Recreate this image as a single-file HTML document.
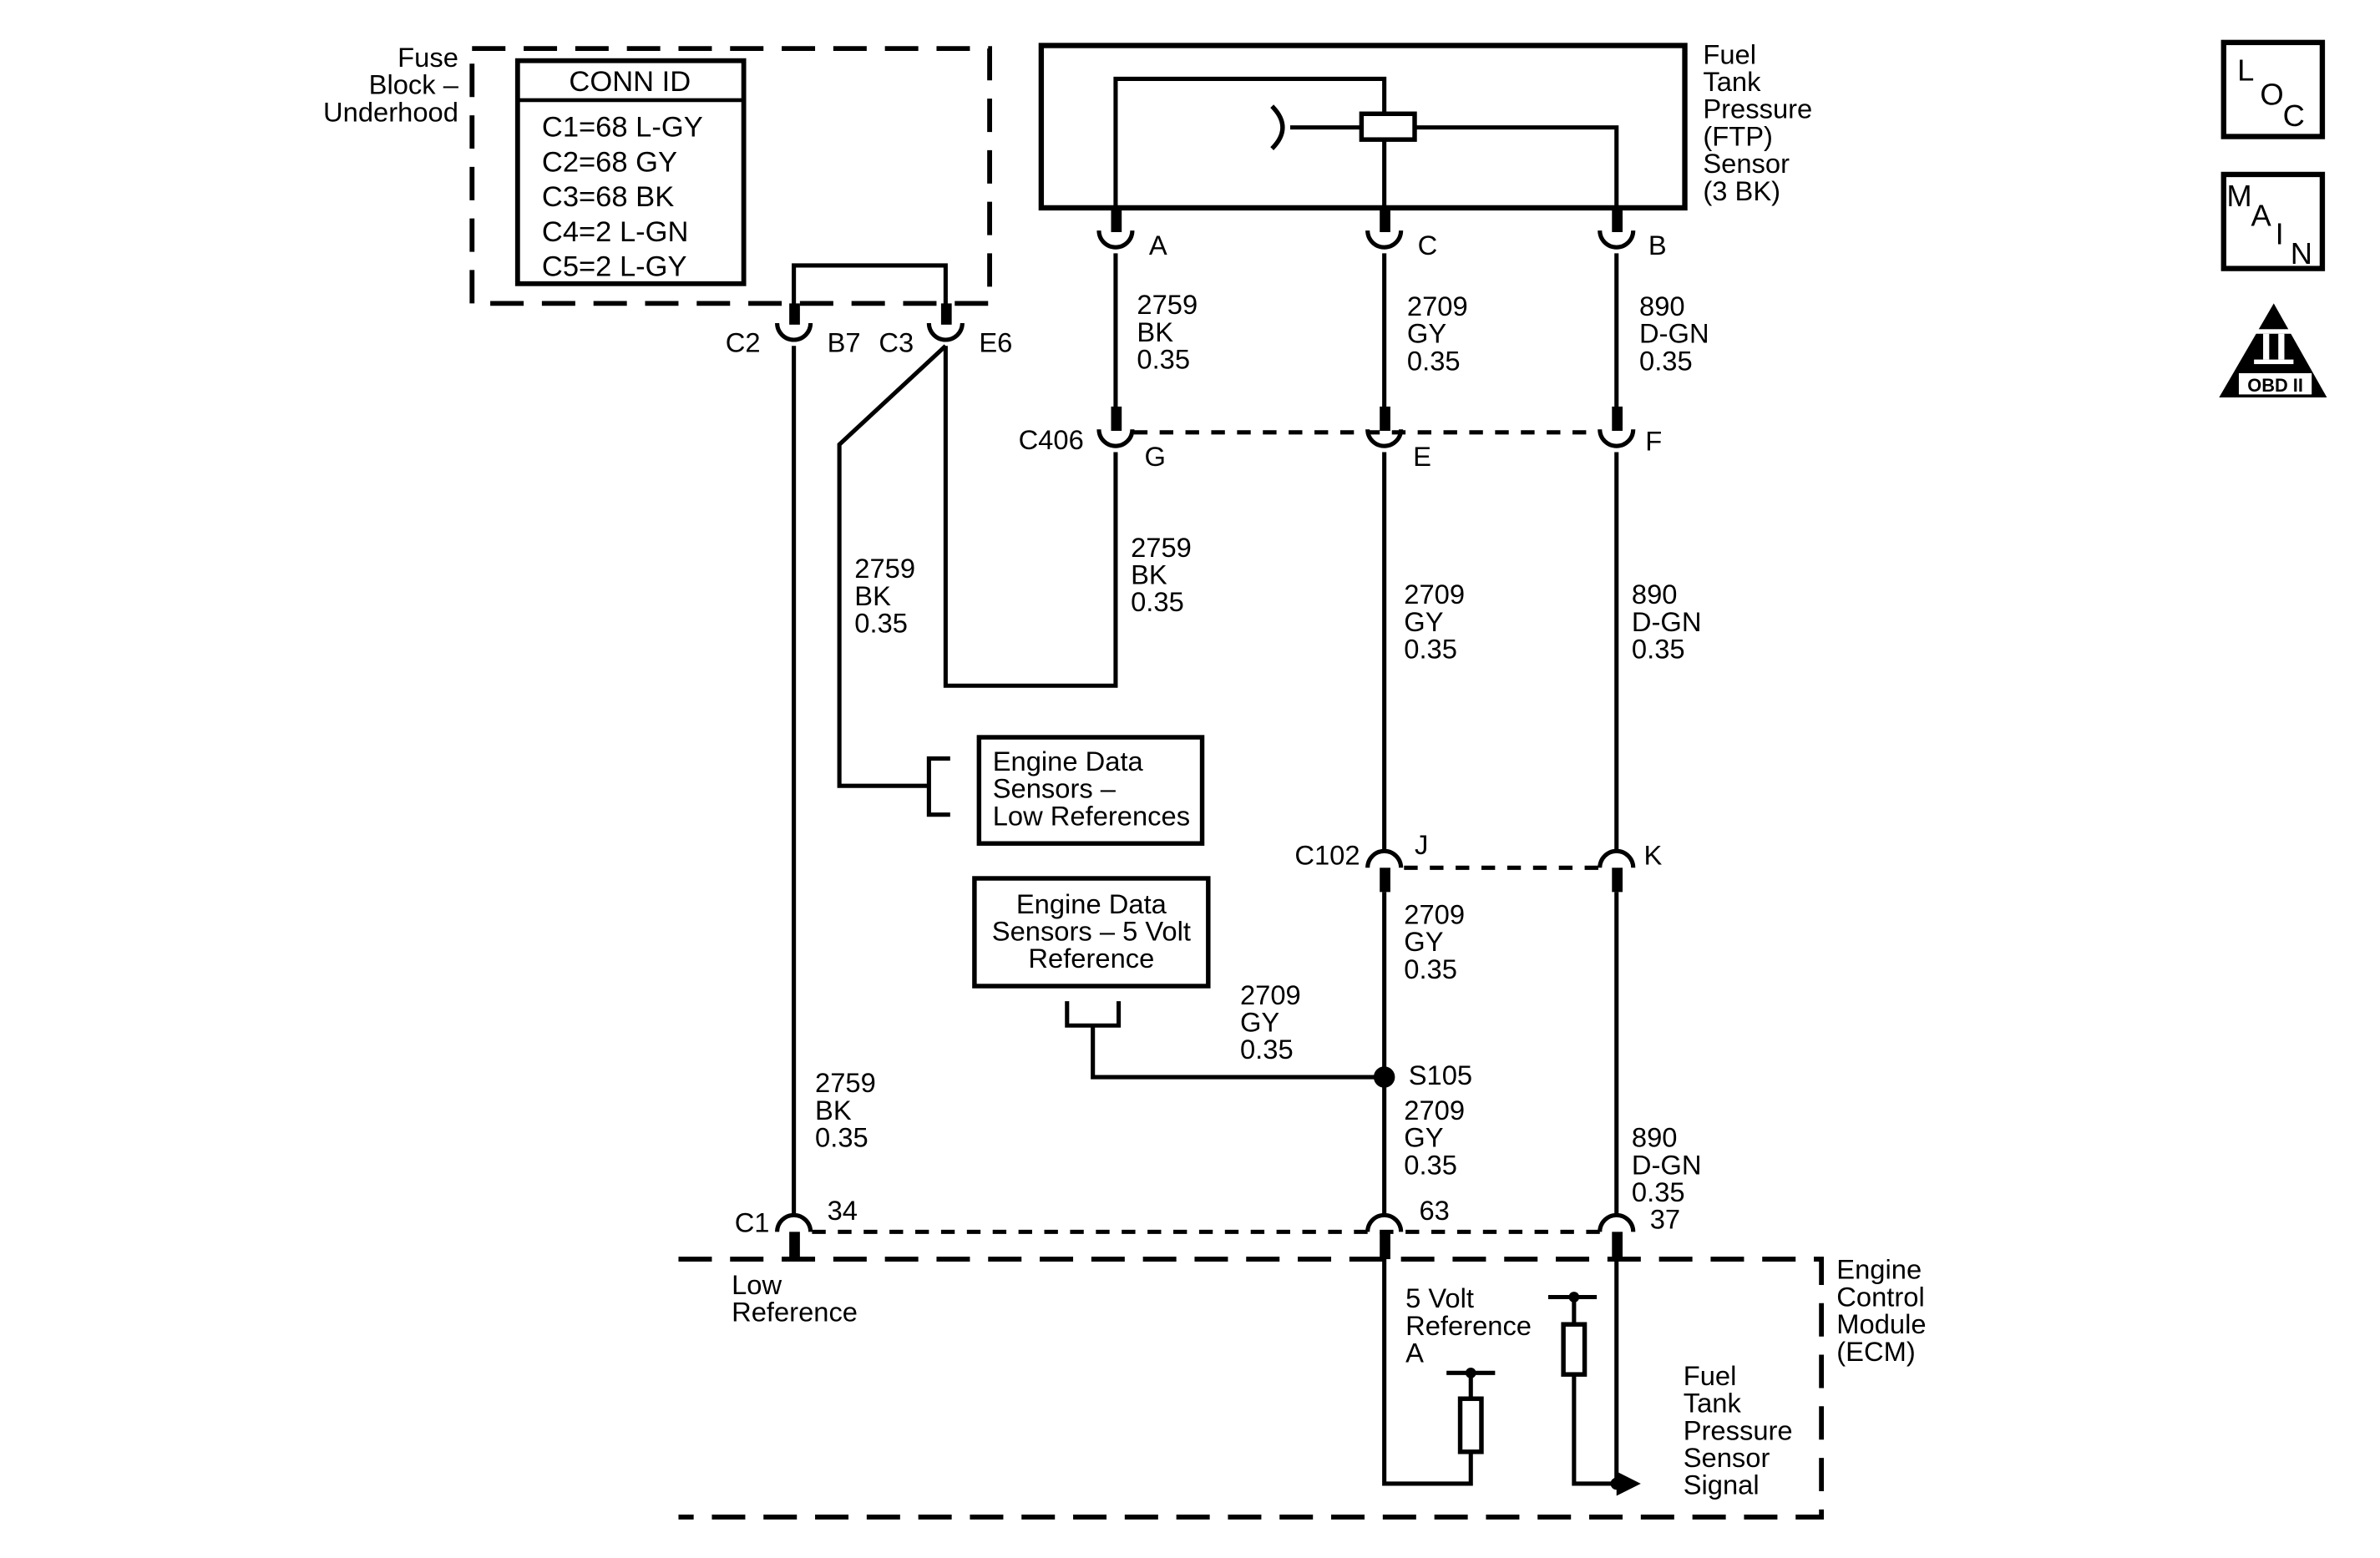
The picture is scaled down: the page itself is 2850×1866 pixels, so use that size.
<!DOCTYPE html>
<html><head><meta charset="utf-8"><style>html,body{margin:0;padding:0;background:#fff}svg{display:block}</style></head>
<body>
<svg width="2850" height="1866" viewBox="0 0 1568 1027" preserveAspectRatio="none" xmlns="http://www.w3.org/2000/svg" font-family="Liberation Sans, sans-serif" font-size="18">
<rect width="1568" height="1027" fill="#fff"/>
<g fill="none" stroke="#000" stroke-width="2.8">
<path d="M311 32 H652 V200 H311 Z" stroke-width="3.2" stroke-dasharray="22 12"/>
<rect x="341" y="40" width="149" height="147" stroke-width="3.2"/>
<line x1="341" y1="66" x2="490" y2="66" stroke-width="2.5"/>
<path d="M523 213 V175 H623 V213"/>
<rect x="686" y="30" width="424" height="107" stroke-width="3.5"/>
<path d="M735 137 V52 H912 V75"/>
<rect x="897" y="75" width="35" height="17" stroke-width="3"/>
<path d="M912 92 V137"/>
<path d="M932 84 H1065 V137"/>
<path d="M897 84 H850"/>
<path d="M838 70 Q852 84 838 98" stroke-width="3"/>
<path d="M523 228 V800"/>
<path d="M623 228 V452 H735 V298"/>
<path d="M623 228 L553 293 V518 H612"/>
<path d="M626 500 H612 V537 H626"/>
<rect x="645" y="486" width="147" height="70" stroke-width="3"/>
<path d="M735 167 V268"/>
<path d="M912 167 V268"/>
<path d="M1065 167 V268"/>
<path d="M912 298 V560"/>
<path d="M1065 298 V560"/>
<path d="M912 588 V800"/>
<path d="M1065 588 V800"/>
<rect x="642" y="579" width="154" height="71" stroke-width="3"/>
<path d="M703 660 V676 H737 V660 M720 676 V710 H912"/>
<path d="M747 285 H1055" stroke-dasharray="9 8"/>
<path d="M925 572 H1055" stroke-dasharray="9 8"/>
<path d="M535 812 H1055" stroke-dasharray="9 8"/>
<path d="M512 213 A11 11 0 0 0 534 213"/>
<path d="M612 213 A11 11 0 0 0 634 213"/>
<path d="M724 152 A11 11 0 0 0 746 152"/>
<path d="M901 152 A11 11 0 0 0 923 152"/>
<path d="M1054 152 A11 11 0 0 0 1076 152"/>
<path d="M724 283 A11 11 0 0 0 746 283"/>
<path d="M901 283 A11 11 0 0 0 923 283"/>
<path d="M1054 283 A11 11 0 0 0 1076 283"/>
<path d="M901 572 A11 11 0 0 1 923 572"/>
<path d="M1054 572 A11 11 0 0 1 1076 572"/>
<path d="M512 812 A11 11 0 0 1 534 812"/>
<path d="M901 812 A11 11 0 0 1 923 812"/>
<path d="M1054 812 A11 11 0 0 1 1076 812"/>
<path d="M447 830 H1200 V1000 H447" stroke-width="3.2" stroke-dasharray="22 12"/>
<path d="M912 828 V978 H969 V957"/>
<rect x="962" y="922" width="14" height="35" stroke-width="3"/>
<path d="M969 922 V905 M953 905 H985"/>
<path d="M1065 828 V978"/>
<path d="M1037 855 V873 M1020 855 H1052"/>
<rect x="1030" y="873" width="14" height="33" stroke-width="3"/>
<path d="M1037 906 V978 H1068"/>
<rect x="1465" y="28" width="65" height="62" stroke-width="3.5"/>
<rect x="1465" y="115" width="65" height="62" stroke-width="3.5"/>
</g>
<g fill="#000">
<rect x="520" y="200" width="7" height="14"/>
<rect x="620" y="200" width="7" height="14"/>
<rect x="732" y="137" width="7" height="16"/>
<rect x="909" y="137" width="7" height="16"/>
<rect x="1062" y="137" width="7" height="16"/>
<rect x="732" y="268" width="7" height="16"/>
<rect x="909" y="268" width="7" height="16"/>
<rect x="1062" y="268" width="7" height="16"/>
<rect x="909" y="572" width="7" height="16"/>
<rect x="1062" y="572" width="7" height="16"/>
<rect x="520" y="812" width="7" height="18"/>
<rect x="909" y="812" width="7" height="18"/>
<rect x="1062" y="812" width="7" height="18"/>
<circle cx="912" cy="710" r="7"/>
<circle cx="969" cy="905" r="3.5"/>
<circle cx="1037" cy="855" r="3.5"/>
<circle cx="1065" cy="978" r="4"/>
<path d="M1065 970 L1081 978 L1065 986 Z"/>
<path d="M1498 200 L1533 262 H1462 Z"/>
</g>
<g fill="#fff">
<rect x="1475" y="246" width="48" height="14"/>
<rect x="1485" y="217" width="26" height="3"/>
<rect x="1485" y="237" width="26" height="3"/>
<rect x="1491" y="220" width="4" height="17"/>
<rect x="1501" y="220" width="4" height="17"/>
</g>
<text x="1499" y="258" font-size="12" text-anchor="middle" font-weight="bold">OBD II</text>
<g font-size="20">
<text x="1474" y="53">L</text><text x="1489" y="69">O</text><text x="1504" y="83">C</text>
<text x="1467" y="136">M</text><text x="1483" y="149">A</text><text x="1499" y="161">I</text><text x="1509" y="174">N</text>
</g>
<g>
<text x="302" y="44" text-anchor="end">Fuse</text>
<text x="302" y="62" text-anchor="end">Block –</text>
<text x="302" y="80" text-anchor="end">Underhood</text>
<text x="415" y="60" text-anchor="middle" font-size="19">CONN ID</text>
<text x="357" y="90" font-size="19">C1=68 L-GY</text>
<text x="357" y="113" font-size="19">C2=68 GY</text>
<text x="357" y="136" font-size="19">C3=68 BK</text>
<text x="357" y="159" font-size="19">C4=2 L-GN</text>
<text x="357" y="182" font-size="19">C5=2 L-GY</text>
<text x="478" y="232">C2</text><text x="545" y="232">B7</text><text x="579" y="232">C3</text><text x="645" y="232">E6</text>
<text x="1122" y="42">Fuel</text><text x="1122" y="60">Tank</text><text x="1122" y="78">Pressure</text><text x="1122" y="96">(FTP)</text><text x="1122" y="114">Sensor</text><text x="1122" y="132">(3 BK)</text>
<text x="757" y="168">A</text><text x="934" y="168">C</text><text x="1086" y="168">B</text>
<text x="749" y="207">2759</text><text x="749" y="225">BK</text><text x="749" y="243">0.35</text>
<text x="927" y="208">2709</text><text x="927" y="226">GY</text><text x="927" y="244">0.35</text>
<text x="1080" y="208">890</text><text x="1080" y="226">D-GN</text><text x="1080" y="244">0.35</text>
<text x="714" y="296" text-anchor="end">C406</text>
<text x="754" y="307">G</text><text x="931" y="307">E</text><text x="1084" y="297">F</text>
<text x="745" y="367">2759</text><text x="745" y="385">BK</text><text x="745" y="403">0.35</text>
<text x="563" y="381">2759</text><text x="563" y="399">BK</text><text x="563" y="417">0.35</text>
<text x="925" y="398">2709</text><text x="925" y="416">GY</text><text x="925" y="434">0.35</text>
<text x="1075" y="398">890</text><text x="1075" y="416">D-GN</text><text x="1075" y="434">0.35</text>
<text x="654" y="508">Engine Data</text><text x="654" y="526">Sensors –</text><text x="654" y="544">Low References</text>
<text x="896" y="570" text-anchor="end">C102</text>
<text x="932" y="563">J</text><text x="1083" y="570">K</text>
<text x="719" y="602" text-anchor="middle">Engine Data</text><text x="719" y="620" text-anchor="middle">Sensors – 5 Volt</text><text x="719" y="638" text-anchor="middle">Reference</text>
<text x="925" y="609">2709</text><text x="925" y="627">GY</text><text x="925" y="645">0.35</text>
<text x="817" y="662">2709</text><text x="817" y="680">GY</text><text x="817" y="698">0.35</text>
<text x="928" y="715">S105</text>
<text x="537" y="720">2759</text><text x="537" y="738">BK</text><text x="537" y="756">0.35</text>
<text x="925" y="738">2709</text><text x="925" y="756">GY</text><text x="925" y="774">0.35</text>
<text x="1075" y="756">890</text><text x="1075" y="774">D-GN</text><text x="1075" y="792">0.35</text>
<text x="507" y="812" text-anchor="end">C1</text>
<text x="545" y="804">34</text><text x="935" y="804">63</text><text x="1087" y="810">37</text>
<text x="1210" y="843">Engine</text><text x="1210" y="861">Control</text><text x="1210" y="879">Module</text><text x="1210" y="897">(ECM)</text>
<text x="482" y="853">Low</text><text x="482" y="871">Reference</text>
<text x="926" y="862">5 Volt</text><text x="926" y="880">Reference</text><text x="926" y="898">A</text>
<text x="1109" y="913">Fuel</text><text x="1109" y="931">Tank</text><text x="1109" y="949">Pressure</text><text x="1109" y="967">Sensor</text><text x="1109" y="985">Signal</text>
</g>
</svg>
</body></html>
